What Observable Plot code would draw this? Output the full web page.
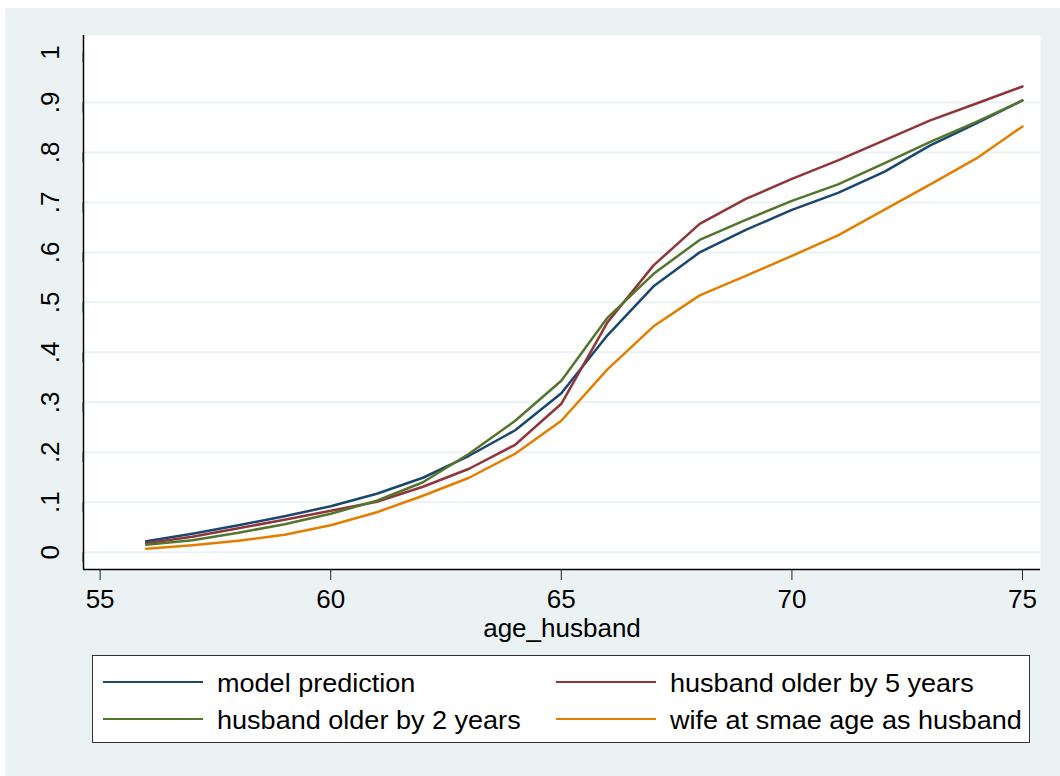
<!DOCTYPE html>
<html><head><meta charset="utf-8">
<script src="https://cdn.jsdelivr.net/npm/d3@7"></script>
<script src="https://cdn.jsdelivr.net/npm/@observablehq/plot@0.6"></script>
<style>
body{margin:0;background:#fff;font-family:"Liberation Sans",Arial,sans-serif;}
#bg{position:absolute;left:5px;top:8px;width:1055px;height:768px;background:#EAF2F3;}
#chart{position:absolute;left:0;top:0;}
#legend{position:absolute;left:92px;top:655px;width:936px;height:86px;border:1px solid #333;background:#fff;}
.li{position:absolute;height:2px;width:100px;}
.lt{position:absolute;font-size:26px;line-height:30px;color:#000;white-space:nowrap;transform:scaleX(1.04);transform-origin:left center;}
</style></head>
<body><div id="bg"></div><div id="chart"></div><div id="legend"></div>
<script>
const ages = [56,57,58,59,60,61,62,63,64,65,66,67,68,69,70,71,72,73,74,75];
const modelPrediction = [0.022,0.037,0.054,0.072,0.092,0.117,0.149,0.193,0.244,0.318,0.434,0.532,0.600,0.645,0.685,0.719,0.761,0.814,0.858,0.904];
const olderBy5 = [0.018,0.031,0.048,0.065,0.083,0.101,0.131,0.167,0.215,0.297,0.460,0.574,0.657,0.707,0.747,0.784,0.824,0.864,0.898,0.932];
const olderBy2 = [0.015,0.024,0.039,0.056,0.077,0.103,0.140,0.197,0.263,0.343,0.469,0.557,0.625,0.665,0.703,0.736,0.778,0.821,0.861,0.904];
const wifeSameAge = [0.007,0.014,0.023,0.035,0.054,0.080,0.113,0.149,0.197,0.263,0.366,0.452,0.514,0.553,0.593,0.634,0.685,0.736,0.788,0.852];
const seriesNames = ["model prediction","husband older by 5 years","husband older by 2 years","wife at smae age as husband"];
const seriesColors = ["#1A476F","#90353B","#55752F","#E37E00"];
const seriesValues = [modelPrediction, olderBy5, olderBy2, wifeSameAge];
const yTicks = [0,0.1,0.2,0.3,0.4,0.5,0.6,0.7,0.8,0.9,1];
const yTickLabels = ["0",".1",".2",".3",".4",".5",".6",".7",".8",".9","1"];
const xTicks = [55,60,65,70,75];
const xTitle = "age_husband";

const data = [];
seriesNames.forEach((s, i) => ages.forEach((a, j) => data.push({series: s, age: a, value: seriesValues[i][j]})));

const xDomain = [54.64, 75.39];
const yDomain = [-0.0346, 1.034];
const font = "'Liberation Sans', Arial, sans-serif";

const plot = Plot.plot({
  width: 1060, height: 650,
  marginLeft: 83, marginRight: 20, marginTop: 35, marginBottom: 81,
  x: {domain: xDomain},
  y: {domain: yDomain},
  color: {domain: seriesNames, range: seriesColors},
  style: {fontFamily: font, fontSize: "26px", background: "transparent", color: "#000", overflow: "visible"},
  marks: [
    Plot.frame({fill: "white", stroke: "none"}),
    Plot.ruleY(yTicks.slice(0, -1), {stroke: "#EAF2F3", strokeWidth: 2}),
    Plot.line(data, {x: "age", y: "value", z: "series", stroke: "series", strokeWidth: 2.5}),
    Plot.ruleX([xDomain[0]], {stroke: "#000", strokeWidth: 1.5}),
    Plot.ruleY([yDomain[0]], {stroke: "#000", strokeWidth: 1.5}),
    Plot.axisY({ticks: yTicks, tickSize: 10, tickPadding: 23, tickFormat: (d, i) => yTickLabels[i], rotate: -90, textAnchor: "middle", stroke: "#222", fontSize: 26, label: null}),
    Plot.axisX({ticks: xTicks, tickSize: 11, tickPadding: 9, stroke: "#222", fontSize: 26, label: null}),
    Plot.text([xTitle], {frameAnchor: "bottom", lineAnchor: "middle", dy: 59, text: d => d, fontSize: 26})
  ]
});
document.getElementById("chart").appendChild(plot);

const legend = document.getElementById("legend");
const pos = [[10, 26], [463, 26], [10, 63], [463, 63]];
[0, 1, 2, 3].forEach((si, k) => {
  const [lx, cy] = pos[k];
  const line = document.createElement("div");
  line.className = "li";
  line.style.left = lx + "px";
  line.style.top = (cy - 1) + "px";
  line.style.background = seriesColors[si];
  legend.appendChild(line);
  const t = document.createElement("div");
  t.className = "lt";
  t.style.left = (lx + 114) + "px";
  t.style.top = (cy - 14) + "px";
  t.textContent = seriesNames[si];
  legend.appendChild(t);
});
</script>
</body></html>
